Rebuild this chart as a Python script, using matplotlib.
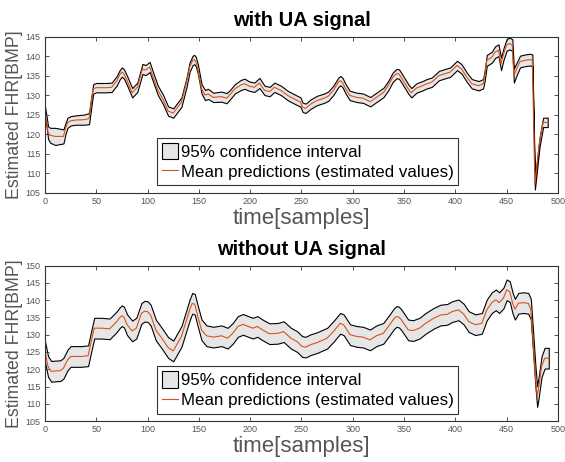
import numpy as np
import matplotlib.pyplot as plt

plt.rcParams['font.family'] = ['Liberation Sans', 'DejaVu Sans']

# --- with UA signal (top panel) ---
t_x = [0, 2, 3, 5, 10, 18, 20, 22, 25, 30, 38, 42, 43, 45, 47, 50, 60, 65, 70, 73, 75, 77,
       80, 85, 90, 95, 98, 102, 105, 110, 115, 120, 125, 133, 138, 141, 144, 145.5, 147, 149, 152.6, 156, 159,
       164, 172, 177, 180, 185, 191, 194.5, 199, 204, 209, 214, 219, 223.5, 230, 236.5, 243, 249, 251, 254, 259,
       265, 272, 276, 281, 286, 288, 290, 293, 297, 304, 310, 317, 323, 330, 334.5, 339, 342.6, 345, 347, 354, 357, 362,
       368, 372, 377, 384, 390, 395, 401.6, 406, 411, 416, 422.6, 427, 428.5, 430.6, 435.5, 438.7, 442, 444.5, 447, 450,
       453, 455.5, 457, 459.7, 463, 467.7, 472.6, 475, 477.5, 482, 485.5, 490]
t_mean = [126.0, 122.5, 120.5, 119.8, 119.5, 119.5, 121.5, 123.0, 123.5, 123.7, 123.8, 124.0, 124.2, 128.0, 131.7, 132.0, 132.0, 132.1, 133.8, 135.4, 136.0, 135.5,
          133.8, 130.7, 132.1, 136.8, 136.5, 137.3, 135.0, 131.3, 129.0, 126.0, 125.5, 128.3, 133.4, 137.3, 139.0, 139.2, 138.7, 136.8, 131.7, 130.1, 130.4,
          129.5, 129.7, 129.3, 130.1, 131.7, 132.7, 133.0, 132.4, 132.1, 133.2, 131.3, 131.0, 132.1, 131.3, 130.0, 129.1, 128.3, 127.0, 126.7, 127.8,
          128.7, 129.3, 129.8, 131.3, 133.4, 133.8, 133.3, 131.7, 130.0, 129.5, 129.3, 128.4, 129.5, 130.8, 132.5, 134.7, 135.6, 135.5, 134.7, 131.7, 130.7, 131.9,
          132.5, 133.0, 133.4, 135.1, 135.6, 136.0, 137.7, 136.8, 134.7, 133.0, 132.5, 133.0, 135.0, 139.0, 139.8, 141.1, 141.6, 138.1, 140.7, 143.0,
          143.3, 142.9, 135.1, 136.8, 138.7, 139.0, 139.2, 139.0, 107.2, 118.0, 123.1, 123.1]
t_ci = [1.2, 1.4, 1.6, 1.9, 2.2, 1.8, 1.4, 1.3, 1.2, 1.2, 1.3, 1.4, 1.5, 1.3, 1.2, 1.2, 1.2, 1.2, 1.2, 1.2, 1.2, 1.2,
        1.2, 1.2, 1.2, 1.3, 1.3, 1.3, 1.2, 1.2, 1.2, 1.2, 1.2, 1.2, 1.2, 1.2, 1.2, 1.2, 1.2, 1.2, 1.2, 1.3, 1.3,
        1.2, 1.3, 1.3, 1.2, 1.2, 1.3, 1.3, 1.2, 1.2, 1.3, 1.2, 1.2, 1.2, 1.2, 1.2, 1.2, 1.2, 1.2, 1.2, 1.2,
        1.2, 1.2, 1.2, 1.2, 1.2, 1.2, 1.2, 1.2, 1.2, 1.2, 1.2, 1.2, 1.2, 1.2, 1.2, 1.2, 1.2, 1.2, 1.2, 1.2, 1.2, 1.2,
        1.2, 1.2, 1.2, 1.2, 1.2, 1.2, 1.2, 1.2, 1.2, 1.2, 1.2, 1.2, 1.3, 1.4, 1.4, 1.5, 1.5, 1.6, 1.5, 1.5,
        1.5, 1.5, 1.8, 1.6, 1.5, 1.5, 1.5, 1.5, 1.3, 1.2, 1.2, 1.2]

# --- without UA signal (bottom panel) ---
b_x = [0, 3, 6, 15, 18, 22, 25, 35, 42, 45, 48, 55, 63, 70, 73, 75, 77, 80, 85, 89, 94, 97, 100,
       103, 108, 115, 120, 125, 133, 138, 141, 143.5, 146, 149, 152.6, 157.4, 164, 172, 178, 183, 188, 193, 198,
       202.6, 207, 212, 218.7, 226.8, 232.6, 239.7, 245.8, 250.6, 254, 258.7, 265, 275, 281, 287.7, 291, 297.4, 304, 310, 316.8,
       323, 329.7, 336, 340, 342.6, 345, 347.4, 354, 358.7, 365, 371, 379, 385.5, 392, 396.8, 403, 408, 413, 419.4, 425.8, 430.6, 435.5,
       439.4, 442.6, 446.8, 450, 453, 455.8, 458, 461.3, 466, 471, 473.5, 475.8, 478, 479.7, 481.3, 484, 487, 491]
b_mean = [125.1, 120.8, 119.4, 119.6, 120.3, 122.7, 123.7, 123.7, 123.9, 128.0, 131.9, 131.9, 131.7, 133.8, 135.0, 135.5, 135.1, 132.9, 131.1, 131.9, 136.2, 136.8, 136.7,
          135.7, 131.4, 128.5, 126.3, 125.3, 129.5, 134.3, 137.2, 139.1, 138.8, 135.3, 131.4, 129.7, 129.3, 129.7, 129.0, 130.4, 132.4, 133.0, 132.4,
          131.9, 132.4, 131.4, 130.3, 130.4, 130.9, 129.0, 128.0, 126.6, 126.4, 127.1, 127.7, 129.0, 130.9, 133.3, 132.9, 130.0, 129.5, 129.3, 128.5,
          129.7, 130.4, 132.9, 134.6, 135.3, 135.1, 134.3, 131.4, 131.2, 131.9, 133.3, 134.8, 135.7, 135.9, 136.7, 137.2, 136.0, 133.8, 132.9, 133.3, 137.2, 139.3,
          140.1, 139.3, 140.6, 143.0, 142.5, 139.1, 137.4, 139.1, 139.3, 139.1, 137.4, 127.6, 117.9, 112.1, 115.0, 120.8, 123.2, 123.2]
b_ci = 3.0

x_ticks = np.arange(0, 501, 50)


def panel(ax, x, mean, ci, ylim, yticks, title):
    x = np.asarray(x)
    mean = np.asarray(mean)
    ci = np.asarray(ci) * np.ones_like(mean)
    ax.fill_between(x, mean - ci, mean + ci, facecolor='#e6e6e6', edgecolor='k',
                    linewidth=0.8, label='95% confidence interval')
    ax.plot(x, mean, color='#D95319', lw=0.8, label='Mean predictions (estimated values)')
    ax.set_xlim(0, 500)
    ax.set_ylim(*ylim)
    ax.set_xticks(x_ticks)
    ax.set_yticks(yticks)
    ax.tick_params(direction='in', length=3, width=0.6, top=True, right=True,
                   labelsize=6.5, labelcolor='#555555', color='#333333', pad=3)
    for s in ax.spines.values():
        s.set_color('#333333')
        s.set_linewidth(0.8)
    ax.set_title(title, fontsize=14.5, fontweight='bold', pad=8)
    ax.set_xlabel('time[samples]', fontsize=16, color='#555555', labelpad=1)
    ax.set_ylabel('Estimated FHR[BMP]', fontsize=12.8, color='#555555', labelpad=2)
    leg = ax.legend(loc='lower left', bbox_to_anchor=(0.218, 0.048), borderaxespad=0,
                    fontsize=12.2, fancybox=False, edgecolor='#333333', framealpha=1,
                    handlelength=0.95, handleheight=1.1, handletextpad=0.15,
                    labelspacing=0.2, borderpad=0.3)
    leg.get_frame().set_linewidth(0.8)


fig = plt.figure(figsize=(5.65, 4.62), dpi=100)
ax1 = fig.add_axes([0.0796, 0.5823, 0.908, 0.3377])
ax2 = fig.add_axes([0.0796, 0.0887, 0.908, 0.3362])

panel(ax1, t_x, t_mean, t_ci, (105, 145), np.arange(105, 146, 5), 'with UA signal')
panel(ax2, b_x, b_mean, b_ci, (105, 150), np.arange(105, 151, 5), 'without UA signal')

fig.savefig('out.png', dpi=100)
